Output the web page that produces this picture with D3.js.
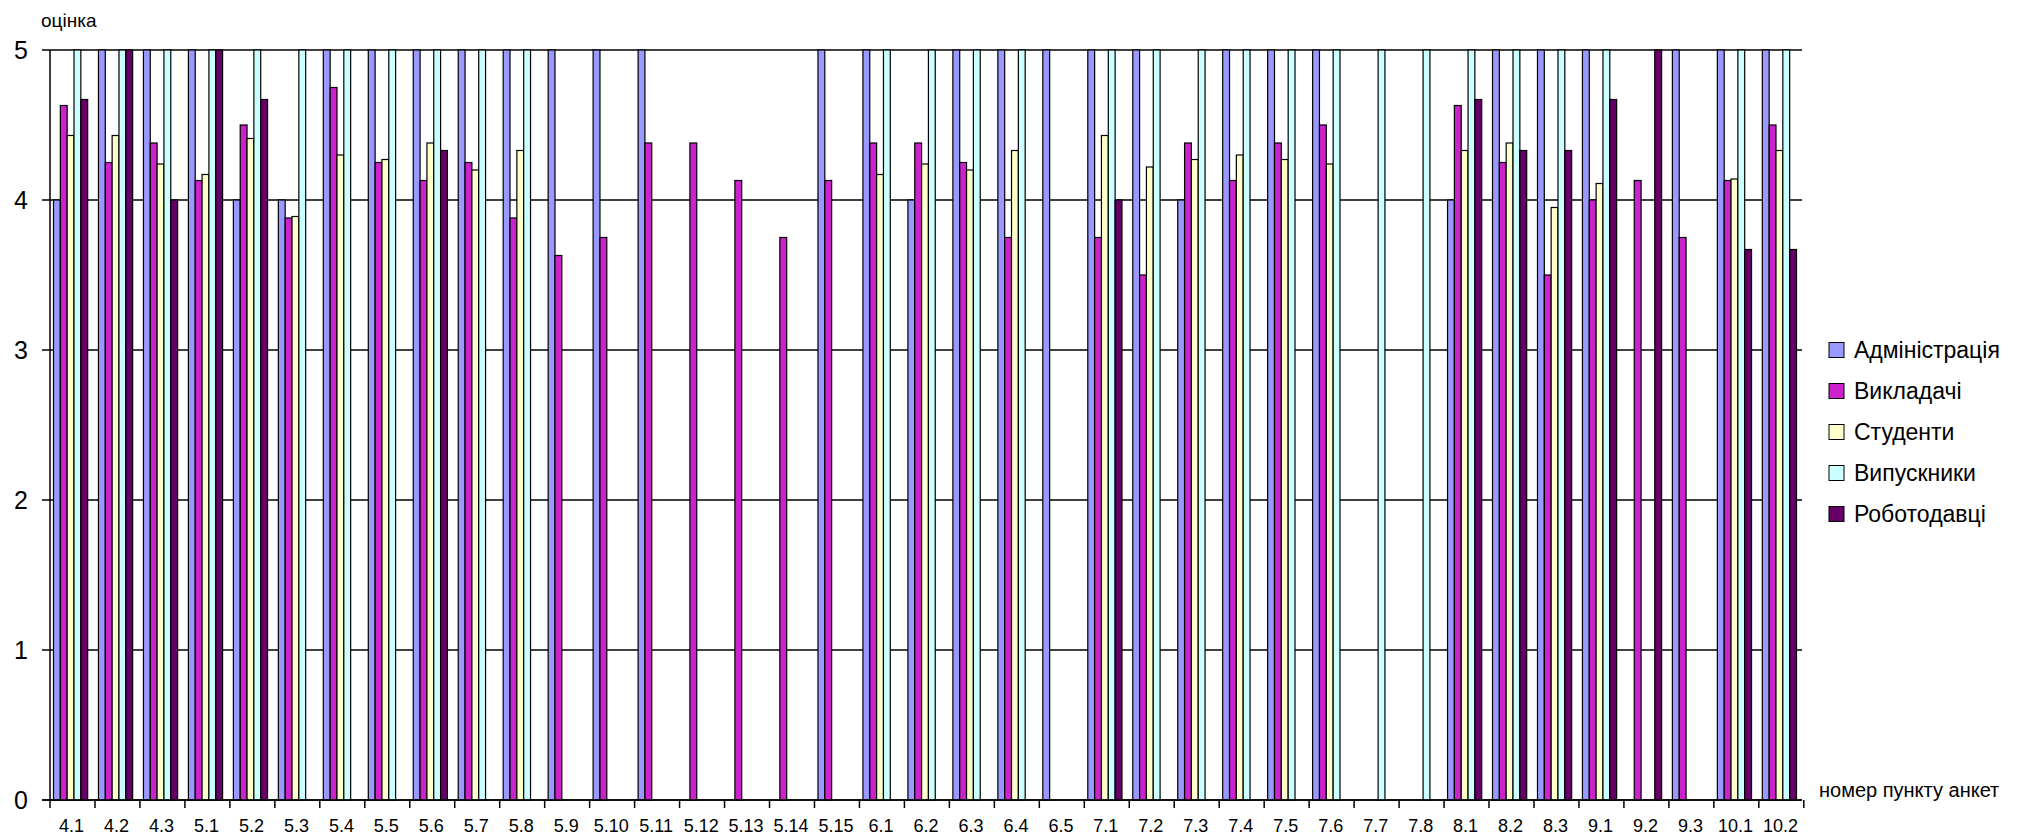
<!DOCTYPE html>
<html>
<head>
<meta charset="utf-8">
<script src="https://cdn.jsdelivr.net/npm/d3@7"></script>
<style>
  body { margin: 0; background: #fff; }
  text { font-family: "Liberation Sans", Arial, sans-serif; fill: #000; }
</style>
</head>
<body>
<div id="chart"></div>
<script>
const categories = ["4.1","4.2","4.3","5.1","5.2","5.3","5.4","5.5","5.6","5.7","5.8","5.9","5.10","5.11","5.12","5.13","5.14","5.15",
  "6.1","6.2","6.3","6.4","6.5","7.1","7.2","7.3","7.4","7.5","7.6","7.7","7.8","8.1","8.2","8.3","9.1","9.2","9.3","10.1","10.2"];

const seriesNames = ["Адміністрація", "Викладачі", "Студенти", "Випускники", "Роботодавці"];

// null = no bar
const admin = [4,5,5,5,4,4,5,5,5,5,5,5,5,5,null,null,null,5,
  5,4,5,5,5,5,5,4,5,5,5,null,null,4,5,5,5,null,5,5,5];
const teachers = [4.63,4.25,4.38,4.13,4.5,3.88,4.75,4.25,4.13,4.25,3.88,3.63,3.75,4.38,4.38,4.13,3.75,4.13,
  4.38,4.38,4.25,3.75,null,3.75,3.5,4.38,4.13,4.38,4.5,null,null,4.63,4.25,3.5,4,4.13,3.75,4.13,4.5];
const students = [4.43,4.43,4.24,4.17,4.41,3.89,4.3,4.27,4.38,4.2,4.33,null,null,null,null,null,null,null,
  4.17,4.24,4.2,4.33,null,4.43,4.22,4.27,4.3,4.27,4.24,null,null,4.33,4.38,3.95,4.11,null,null,4.14,4.33];
const graduates = [5,5,5,5,5,5,5,5,5,5,5,null,null,null,null,null,null,null,
  5,5,5,5,null,5,5,5,5,5,5,5,5,5,5,5,5,null,null,5,5];
const employers = [4.67,5,4,5,4.67,null,null,null,4.33,null,null,null,null,null,null,null,null,null,
  null,null,null,null,null,4,null,null,null,null,null,null,null,4.67,4.33,4.33,4.67,5,null,3.67,3.67];

const yTicks = [0, 1, 2, 3, 4, 5];
const colors = ["#9999ff", "#cc22cc", "#ffffcc", "#ccffff", "#660066"];

const allSeries = [admin, teachers, students, graduates, employers];

const W = 2022, H = 837;
const plotLeft = 50, plotRight = 1802, plotTop = 50, plotBottom = 800;

const svg = d3.select("#chart").append("svg")
    .attr("width", W)
    .attr("height", H);

svg.append("rect").attr("width", W).attr("height", H).attr("fill", "#fff");

const x = d3.scaleBand()
    .domain(categories)
    .range([plotLeft, plotRight])
    .paddingInner(0.24)
    .paddingOuter(0.1);

const xs = d3.scaleBand()
    .domain(d3.range(seriesNames.length))
    .range([0, x.bandwidth()]);

const y = d3.scaleLinear().domain([0, 5]).range([plotBottom, plotTop]);

// gridlines with outside tick marks
svg.append("g").selectAll("line")
    .data(yTicks)
    .join("line")
    .attr("x1", plotLeft - 8)
    .attr("x2", plotRight)
    .attr("y1", d => y(d))
    .attr("y2", d => y(d))
    .attr("stroke", "#000")
    .attr("stroke-width", 1.5);

// y axis
svg.append("line")
    .attr("x1", plotLeft).attr("x2", plotLeft)
    .attr("y1", plotTop).attr("y2", plotBottom)
    .attr("stroke", "#000").attr("stroke-width", 1.5);

svg.append("g").selectAll("text")
    .data(yTicks)
    .join("text")
    .attr("x", 28)
    .attr("y", d => y(d))
    .attr("dy", "0.36em")
    .attr("text-anchor", "end")
    .style("font-size", "25px")
    .text(d => d);

// bars
const groups = svg.append("g").selectAll("g")
    .data(categories)
    .join("g")
    .attr("transform", d => "translate(" + (x(d) - 1) + ",0)");

groups.selectAll("rect")
    .data((d, i) => allSeries.map((s, k) => ({k: k, v: s[i]})).filter(e => e.v != null))
    .join("rect")
    .attr("x", d => xs(d.k))
    .attr("width", xs.bandwidth())
    .attr("y", d => y(d.v))
    .attr("height", d => y(0) - y(d.v))
    .attr("fill", d => colors[d.k])
    .attr("stroke", "#000")
    .attr("stroke-width", 1.2);

// x axis with ticks between categories
const step = x.step();
svg.append("g").selectAll("line")
    .data(d3.range(categories.length + 1))
    .join("line")
    .attr("x1", i => plotLeft + i * step)
    .attr("x2", i => plotLeft + i * step)
    .attr("y1", plotBottom)
    .attr("y2", plotBottom + 8)
    .attr("stroke", "#000")
    .attr("stroke-width", 1.5);

svg.append("line")
    .attr("x1", plotLeft - 8).attr("x2", plotRight)
    .attr("y1", plotBottom).attr("y2", plotBottom)
    .attr("stroke", "#000").attr("stroke-width", 1.5);

svg.append("g").selectAll("text")
    .data(categories)
    .join("text")
    .attr("x", d => x(d) + x.bandwidth() / 2)
    .attr("y", 832)
    .attr("text-anchor", "middle")
    .style("font-size", "18px")
    .text(d => d);

// axis titles
svg.append("text")
    .attr("x", 41).attr("y", 27)
    .style("font-size", "19px")
    .text("оцінка");

svg.append("text")
    .attr("x", 1819).attr("y", 797)
    .style("font-size", "20px")
    .text("номер пункту анкет");

// legend
const legend = svg.append("g").selectAll("g")
    .data(seriesNames)
    .join("g")
    .attr("transform", (d, i) => "translate(1829," + (350 + i * 41) + ")");

legend.append("rect")
    .attr("x", 0).attr("y", -7.5)
    .attr("width", 15).attr("height", 15)
    .attr("fill", (d, i) => colors[i])
    .attr("stroke", "#000")
    .attr("stroke-width", 1);

legend.append("text")
    .attr("x", 25)
    .attr("dy", "0.36em")
    .style("font-size", "23px")
    .text(d => d);
</script>
</body>
</html>
